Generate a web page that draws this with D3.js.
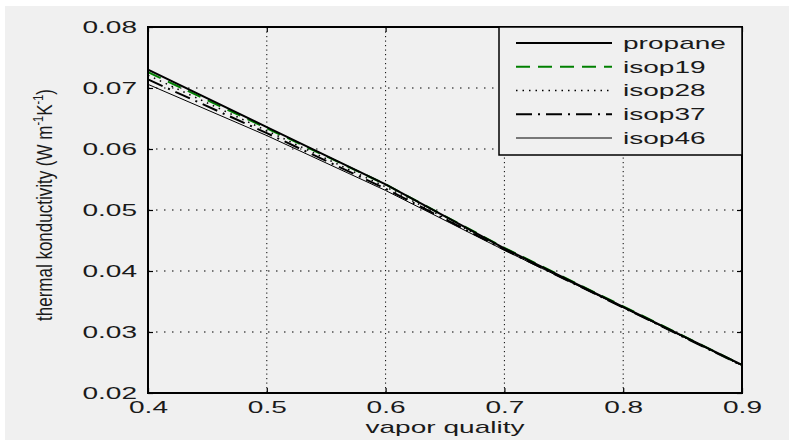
<!DOCTYPE html>
<html>
<head>
<meta charset="utf-8">
<script src="https://cdn.jsdelivr.net/npm/d3@7"></script>
<style>
  html, body { margin: 0; padding: 0; background: #fff; }
  svg { display: block; }
  text { font-family: "Liberation Sans", Arial, sans-serif; fill: #1a1a1a; }
</style>
</head>
<body>
<div id="chart"></div>
<script>
// Values.
const quality = [0.4, 0.5, 0.6, 0.7, 0.8, 0.9];
const propane = [0.0730, 0.0636, 0.0542, 0.0437, 0.0341, 0.0246];
const isop19 = [0.0726, 0.0634, 0.0542, 0.0438, 0.0342, 0.0246];
const isop28 = [0.0721, 0.0630, 0.0538, 0.0436, 0.0341, 0.0245];
const isop37 = [0.0714, 0.0626, 0.0535, 0.0435, 0.0340, 0.0245];
const isop46 = [0.0706, 0.0622, 0.0532, 0.0434, 0.0340, 0.0245];
const xTicks = [0.4, 0.5, 0.6, 0.7, 0.8, 0.9];
const yTicks = [0.02, 0.03, 0.04, 0.05, 0.06, 0.07, 0.08];
const seriesNames = ["propane", "isop19", "isop28", "isop37", "isop46"];

const styles = {
    propane: { color: "#000", width: 2, dash: null },
    isop19: { color: "#008000", width: 2, dash: "14,8" },
    isop28: { color: "#000", width: 1.5, dash: "1.5,5" },
    isop37: { color: "#000", width: 2, dash: "16,6,2,6" },
    isop46: { color: "#000", width: 1, dash: null }
};

const width = 789;
const height = 440;
const marginTop = 27;
const marginRight = 47;
const marginBottom = 47;
const marginLeft = 148;
const stretchX = 1.65; // the picture's text is wide

const values = { propane, isop19, isop28, isop37, isop46 };
const series = seriesNames.map(name => ({
    name,
    points: quality.map((q, i) => [q, values[name][i]])
}));

const x = d3.scaleLinear().domain([0.4, 0.9]).range([marginLeft, width - marginRight]);
const y = d3.scaleLinear().domain([0.02, 0.08]).range([height - marginBottom, marginTop]);

const svg = d3.select("#chart").append("svg")
    .attr("width", width)
    .attr("height", height)
    .attr("viewBox", [0, 0, width, height]);

// Figure background (thin white edge at top and left).
svg.append("rect")
    .attr("x", 5).attr("y", 6)
    .attr("width", width - 5).attr("height", height - 6)
    .attr("fill", "#f0f0f0");

// Widen text about its anchor point.
function stretch(selection, sx) {
    selection.each(function() {
        const t = d3.select(this);
        const tx = +t.attr("x") || 0;
        const ty = +t.attr("y") || 0;
        t.attr("x", 0).attr("y", 0).attr("transform", `translate(${tx},${ty}) scale(${sx},1)`);
    });
}

// Grid, dotted.
svg.append("g")
  .selectAll("line")
  .data(xTicks.slice(1, -1))
  .join("line")
    .attr("x1", d => x(d)).attr("x2", d => x(d))
    .attr("y1", marginTop).attr("y2", height - marginBottom)
    .attr("stroke", "#000")
    .attr("stroke-width", 1)
    .attr("stroke-dasharray", "1.2,3.3");

svg.append("g")
  .selectAll("line")
  .data(yTicks.slice(1, -1))
  .join("line")
    .attr("x1", marginLeft).attr("x2", width - marginRight)
    .attr("y1", d => y(d)).attr("y2", d => y(d))
    .attr("stroke", "#000")
    .attr("stroke-width", 1)
    .attr("stroke-dasharray", "1.5,6.5");

// Series.
const line = d3.line().x(d => x(d[0])).y(d => y(d[1]));

svg.append("g")
  .attr("fill", "none")
  .selectAll("path")
  .data(series.slice().reverse())
  .join("path")
    .attr("d", d => line(d.points))
    .attr("stroke", d => styles[d.name].color)
    .attr("stroke-width", d => styles[d.name].width)
    .attr("stroke-dasharray", d => styles[d.name].dash);

// Axes with inward ticks.
const bottomAxis = svg.append("g")
    .attr("transform", `translate(0,${height - marginBottom})`)
    .call(d3.axisBottom(x).tickValues(xTicks).tickFormat(d3.format(".1f")).tickSize(-5).tickPadding(8))
    .call(g => g.select(".domain").remove());

const leftAxis = svg.append("g")
    .attr("transform", `translate(${marginLeft},0)`)
    .call(d3.axisLeft(y).tickValues(yTicks).tickFormat(d3.format(".2f")).tickSize(-5).tickPadding(11))
    .call(g => g.select(".domain").remove());

svg.append("g")
    .attr("transform", `translate(0,${marginTop})`)
    .call(d3.axisTop(x).tickValues(xTicks).tickFormat("").tickSize(-5))
    .call(g => g.select(".domain").remove());

svg.append("g")
    .attr("transform", `translate(${width - marginRight},0)`)
    .call(d3.axisRight(y).tickValues(yTicks).tickFormat("").tickSize(-5))
    .call(g => g.select(".domain").remove());

svg.selectAll(".tick line").attr("stroke", "#000").attr("stroke-width", 1.2);
svg.selectAll(".tick text").attr("font-size", 17).attr("fill", "#1a1a1a")
    .attr("font-family", "'Liberation Sans', Arial, sans-serif");
stretch(bottomAxis.selectAll(".tick text"), stretchX);
stretch(leftAxis.selectAll(".tick text"), stretchX);

// Box.
svg.append("rect")
    .attr("x", marginLeft).attr("y", marginTop)
    .attr("width", width - marginLeft - marginRight)
    .attr("height", height - marginTop - marginBottom)
    .attr("fill", "none")
    .attr("stroke", "#000")
    .attr("stroke-width", 2);

// Axis titles.
svg.append("text")
    .attr("text-anchor", "middle")
    .attr("font-size", 17)
    .attr("transform", `translate(445,433) scale(${stretchX},1)`)
    .text("vapor quality");

const yTitle = svg.append("text")
    .attr("text-anchor", "middle")
    .attr("font-size", 17)
    .attr("transform", `translate(52,205) rotate(-90) scale(1,1.3)`);
yTitle.append("tspan").text("thermal konductivity (W m");
yTitle.append("tspan").attr("font-size", 11).attr("dy", -7).text("-1");
yTitle.append("tspan").attr("dy", 7).text("K");
yTitle.append("tspan").attr("font-size", 11).attr("dy", -7).text("-1");
yTitle.append("tspan").attr("dy", 7).text(")");

// Legend.
const legendX = 499;
const legendY = marginTop;
const legendW = width - marginRight - legendX;
const legendH = 128;
const legend = svg.append("g");

legend.append("rect")
    .attr("x", legendX).attr("y", legendY)
    .attr("width", legendW).attr("height", legendH)
    .attr("fill", "#f0f0f0")
    .attr("stroke", "#000")
    .attr("stroke-width", 1.5);

const rowY = d3.scalePoint().domain(seriesNames).range([legendY + 16, legendY + 111]);

const rows = legend.selectAll("g.row")
  .data(seriesNames)
  .join("g")
    .attr("class", "row")
    .attr("transform", d => `translate(0,${rowY(d)})`);

rows.append("line")
    .attr("x1", 516).attr("x2", 612)
    .attr("stroke", d => styles[d].color)
    .attr("stroke-width", d => styles[d].width)
    .attr("stroke-dasharray", d => styles[d].dash);

rows.append("text")
    .attr("font-size", 17)
    .attr("dy", "0.35em")
    .attr("transform", `translate(623,0) scale(${stretchX},1)`)
    .text(d => d);
</script>
</body>
</html>
